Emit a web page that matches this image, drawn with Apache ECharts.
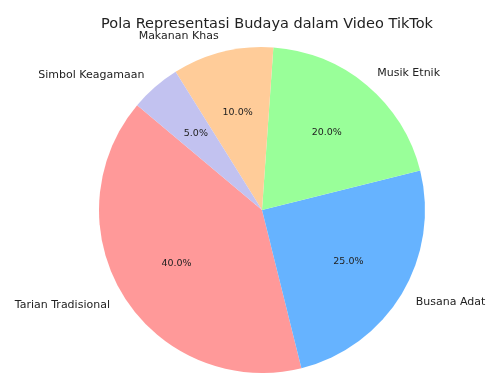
<!DOCTYPE html>
<html>
<head>
<meta charset="utf-8">
<script src="https://cdn.jsdelivr.net/npm/echarts@6/dist/echarts.min.js"></script>
<style>html,body{margin:0;padding:0;background:#fff}#c{width:488px;height:374px}</style>
</head>
<body>
<div id="c"></div>
<script>
const titleText = 'Pola Representasi Budaya dalam Video TikTok';
const categories = ['Tarian Tradisional', 'Busana Adat', 'Musik Etnik', 'Makanan Khas', 'Simbol Keagamaan'];
const values = [40, 25, 20, 10, 5];
const colors = ['#ff9999', '#66b3ff', '#99ff99', '#ffcc99', '#c2c2f0'];

const FONT = 'DejaVu Sans';
const CX = 262, CY = 210, R = 163;

const mainData = categories.map((name, i) => ({ name, value: values[i], itemStyle: { color: colors[i] } }));
const ghostData = categories.map((name, i) => ({ name, value: values[i] }));

const chart = echarts.init(document.getElementById('c'), null, { renderer: 'canvas' });
chart.setOption({
  animation: false,
  backgroundColor: '#ffffff',
  title: {
    text: titleText,
    left: CX,
    top: 12,
    textAlign: 'center',
    textStyle: { fontFamily: FONT, fontSize: 14.5, fontWeight: 'normal', color: '#222' }
  },
  series: [
    {
      type: 'pie',
      center: [CX, CY],
      radius: [0, R],
      startAngle: 140,
      clockwise: false,
      avoidLabelOverlap: false,
      silent: true,
      emphasis: { disabled: true },
      data: mainData,
      label: {
        show: true,
        position: 'outside',
        alignTo: 'none',
        distanceToLabelLine: 0,
        fontFamily: FONT,
        fontSize: 11,
        color: '#222',
        formatter: '{b}'
      },
      labelLine: { show: false, length: R * 0.1, length2: 0 }
    },
    {
      type: 'pie',
      center: [CX, CY],
      radius: [0, R * 1.2],
      startAngle: 140,
      clockwise: false,
      avoidLabelOverlap: false,
      silent: true,
      emphasis: { disabled: true },
      z: 3,
      data: ghostData,
      itemStyle: { color: 'rgba(0,0,0,0)', borderWidth: 0 },
      label: {
        show: true,
        position: 'inside',
        fontFamily: FONT,
        fontSize: 9.5,
        color: '#222',
        formatter: p => p.percent.toFixed(1) + '%'
      },
      labelLine: { show: false }
    }
  ]
});
</script>
</body>
</html>
